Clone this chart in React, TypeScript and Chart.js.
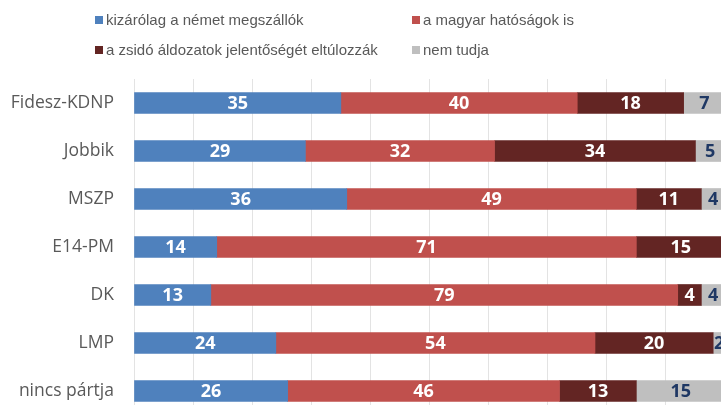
import React, { useEffect, useRef } from "react";
import { Chart, registerables } from "chart.js";

Chart.register(...registerables);

const categories = ["Fidesz-KDNP", "Jobbik", "MSZP", "E14-PM", "DK", "LMP", "nincs pártja"];
const seriesNames = [
  "kizárólag a német megszállók",
  "a magyar hatóságok is",
  "a zsidó áldozatok jelentőségét eltúlozzák",
  "nem tudja",
];
const germanOnly = [35, 29, 36, 14, 13, 24, 26];
const hungarianToo = [40, 32, 49, 71, 79, 54, 46];
const exaggerated = [18, 34, 11, 15, 4, 20, 13];
const dontKnow = [7, 5, 4, 0, 4, 2, 15];
const seriesColors = ["#4F81BD", "#C0504D", "#632523", "#BFBFBF"];
const labelColors = ["#FFFFFF", "#FFFFFF", "#FFFFFF", "#1F3864"];

const legendPlugin = {
  id: "customLegend",
  afterDraw(chart: any) {
    const ctx = chart.ctx;
    const cols = [95, 412];
    const rows = [20, 50];
    ctx.save();
    ctx.font = "15px 'Liberation Sans', Arial, sans-serif";
    ctx.textBaseline = "middle";
    ctx.textAlign = "left";
    chart.data.datasets.forEach((ds: any, i: number) => {
      const x = cols[i % 2];
      const y = rows[Math.floor(i / 2)];
      ctx.fillStyle = ds.backgroundColor;
      ctx.fillRect(x, y - 4, 8, 8);
      ctx.fillStyle = "#595959";
      ctx.fillText(ds.label, x + 11, y + 1);
    });
    ctx.restore();
  },
};

const valueLabelPlugin = {
  id: "valueLabels",
  afterDatasetsDraw(chart: any) {
    const ctx = chart.ctx;
    ctx.save();
    ctx.font = "bold 18px 'Open Sans', sans-serif";
    ctx.textAlign = "center";
    ctx.textBaseline = "middle";
    chart.data.datasets.forEach((ds: any, di: number) => {
      const meta = chart.getDatasetMeta(di);
      meta.data.forEach((bar: any, i: number) => {
        const v = ds.data[i];
        if (!v) return;
        const c = bar.getCenterPoint();
        ctx.fillStyle = labelColors[di];
        ctx.fillText(String(v), c.x, c.y + 1);
      });
    });
    ctx.restore();
  },
};

export default function App() {
  const ref = useRef<HTMLCanvasElement>(null);
  useEffect(() => {
    if (!ref.current) return;
    const values = [germanOnly, hungarianToo, exaggerated, dontKnow];
    const chart = new Chart(ref.current, {
      type: "bar",
      data: {
        labels: categories,
        datasets: values.map((d, i) => ({
          label: seriesNames[i],
          data: d,
          backgroundColor: seriesColors[i],
          borderWidth: 0,
          barThickness: 21,
        })),
      },
      options: {
        indexAxis: "y",
        animation: false,
        responsive: false,
        maintainAspectRatio: false,
        layout: { padding: { top: 79, right: 15, bottom: 5, left: 0 } },
        plugins: { legend: { display: false }, tooltip: { enabled: false } },
        scales: {
          x: {
            stacked: true,
            min: 0,
            max: 100,
            ticks: { display: false, stepSize: 10 },
            grid: { color: "#E3E3E3", drawTicks: false, lineWidth: 1 },
            border: { display: false },
            afterFit(scale: any) {
              scale.height = 0;
              scale.paddingLeft = 0;
              scale.paddingRight = 0;
            },
          },
          y: {
            stacked: true,
            ticks: {
              color: "#595959",
              font: { family: "'Open Sans', sans-serif", size: 17.5 },
              padding: 20,
            },
            grid: { display: false, drawTicks: false },
            border: { display: false },
            afterFit(scale: any) {
              scale.width = 134;
              scale.paddingTop = 0;
              scale.paddingBottom = 0;
            },
          },
        },
      },
      plugins: [legendPlugin, valueLabelPlugin],
    });
    return () => chart.destroy();
  }, []);
  return (
    <div style={{ position: "fixed", left: 0, top: 0, width: 740, height: 420, background: "#fff" }}>
      <canvas ref={ref} width={740} height={420} style={{ display: "block", width: 740, height: 420 }} />
    </div>
  );
}
